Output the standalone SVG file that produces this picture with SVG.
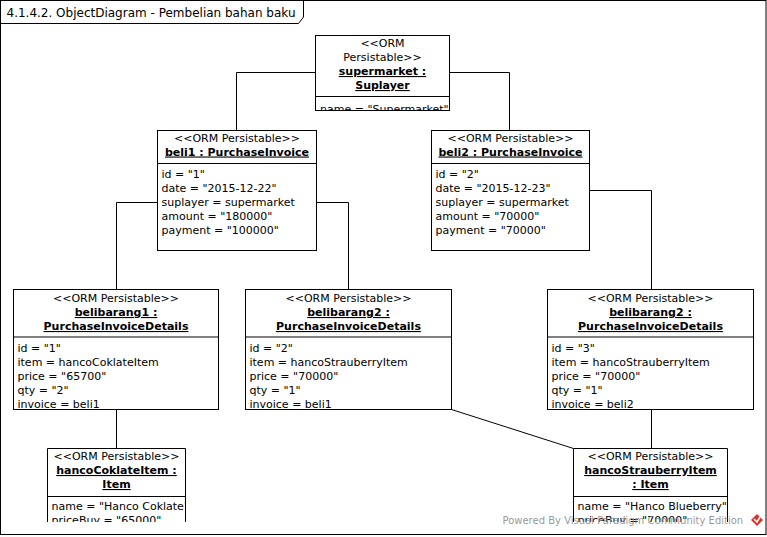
<svg xmlns="http://www.w3.org/2000/svg" width="767" height="537" viewBox="0 0 767 537">
<style>
  text { font-family: "DejaVu Sans", "Liberation Sans", sans-serif; font-size: 11px; fill: #000; }
  .c { text-anchor: middle; }
  .b { font-weight: bold; text-decoration: underline; }
  .box { fill: #fff; stroke: #000; stroke-width: 1; }
  .ln { fill: none; stroke: #000; stroke-width: 1; }
  .title { font-size: 12px; }
  .wm { font-size: 10px; fill: #8c8c8c; fill-opacity: 0.9; }
</style>
<defs>
  <clipPath id="clipSm"><rect x="316" y="36" width="133" height="74"/></clipPath>
  <clipPath id="clipHc"><rect x="48" y="449" width="137" height="73"/></clipPath>
  <clipPath id="clipHs"><rect x="574" y="449" width="153" height="73"/></clipPath>
</defs>
<rect x="0" y="0" width="767" height="537" fill="#fff"/>
<g id="frame">
  <rect x="0.5" y="0.5" width="765.5" height="534" class="ln"/>
  <polyline points="0.5,23.5 298.5,23.5 303.5,17 303.5,0.5" class="ln"/>
  <text x="6.5" y="16.5" class="title">4.1.4.2. ObjectDiagram - Pembelian bahan baku</text>
</g>
<g id="connectors">
  <polyline points="315,72.5 236.5,72.5 236.5,130" class="ln"/>
  <polyline points="449,72.5 509.5,72.5 509.5,130" class="ln"/>
  <polyline points="157,202.5 116.5,202.5 116.5,289" class="ln"/>
  <polyline points="316,202.5 348.5,202.5 348.5,289" class="ln"/>
  <polyline points="589,190.5 651.5,190.5 651.5,289" class="ln"/>
  <line x1="116.5" y1="409" x2="116.5" y2="448" class="ln"/>
  <line x1="651.5" y1="409" x2="651.5" y2="448" class="ln"/>
  <line x1="451.5" y1="409.5" x2="573.5" y2="448.5" class="ln"/>
</g>
<g id="supermarket">
  <rect x="315.5" y="35.5" width="134" height="75" class="box"/>
  <line x1="315.5" y1="96.5" x2="449.5" y2="96.5" class="ln"/>
  <text x="382.5" y="47" class="c">&lt;&lt;ORM</text>
  <text x="382.5" y="61" class="c">Persistable&gt;&gt;</text>
  <text x="382.5" y="75" class="c b">supermarket :</text>
  <text x="382.5" y="89" class="c b">Suplayer</text>
  <g clip-path="url(#clipSm)"><text x="320" y="112.5">name = "Supermarket"</text></g>
</g>
<g id="beli1">
  <rect x="157.5" y="130.5" width="159" height="120" class="box"/>
  <line x1="157.5" y1="163.5" x2="316.5" y2="163.5" class="ln"/>
  <text x="237" y="142" class="c">&lt;&lt;ORM Persistable&gt;&gt;</text>
  <text x="237" y="155.5" class="c b">beli1 : PurchaseInvoice</text>
  <text x="161.5" y="177.5">id = "1"</text>
  <text x="161.5" y="191.5">date = "2015-12-22"</text>
  <text x="161.5" y="205.5">suplayer = supermarket</text>
  <text x="161.5" y="219.5">amount = "180000"</text>
  <text x="161.5" y="233.5">payment = "100000"</text>
</g>
<g id="beli2">
  <rect x="431.5" y="130.5" width="158" height="120" class="box"/>
  <line x1="431.5" y1="163.5" x2="589.5" y2="163.5" class="ln"/>
  <text x="510.5" y="142" class="c">&lt;&lt;ORM Persistable&gt;&gt;</text>
  <text x="510.5" y="155.5" class="c b">beli2 : PurchaseInvoice</text>
  <text x="435.5" y="177.5">id = "2"</text>
  <text x="435.5" y="191.5">date = "2015-12-23"</text>
  <text x="435.5" y="205.5">suplayer = supermarket</text>
  <text x="435.5" y="219.5">amount = "70000"</text>
  <text x="435.5" y="233.5">payment = "70000"</text>
</g>
<g id="belibarang1">
  <rect x="13.5" y="289.5" width="205" height="120" class="box"/>
  <line x1="13.5" y1="337" x2="218.5" y2="337" class="ln"/>
  <text x="116" y="302" class="c">&lt;&lt;ORM Persistable&gt;&gt;</text>
  <text x="116" y="316" class="c b">belibarang1 :</text>
  <text x="116" y="330" class="c b">PurchaseInvoiceDetails</text>
  <text x="17.5" y="352">id = "1"</text>
  <text x="17.5" y="366">item = hancoCoklateItem</text>
  <text x="17.5" y="380">price = "65700"</text>
  <text x="17.5" y="394">qty = "2"</text>
  <text x="17.5" y="408">invoice = beli1</text>
</g>
<g id="belibarang2">
  <rect x="245.5" y="289.5" width="206" height="120" class="box"/>
  <line x1="245.5" y1="337" x2="451.5" y2="337" class="ln"/>
  <text x="348.5" y="302" class="c">&lt;&lt;ORM Persistable&gt;&gt;</text>
  <text x="348.5" y="316" class="c b">belibarang2 :</text>
  <text x="348.5" y="330" class="c b">PurchaseInvoiceDetails</text>
  <text x="249.5" y="352">id = "2"</text>
  <text x="249.5" y="366">item = hancoStrauberryItem</text>
  <text x="249.5" y="380">price = "70000"</text>
  <text x="249.5" y="394">qty = "1"</text>
  <text x="249.5" y="408">invoice = beli1</text>
</g>
<g id="belibarang3">
  <rect x="547.5" y="289.5" width="206" height="120" class="box"/>
  <line x1="547.5" y1="337" x2="753.5" y2="337" class="ln"/>
  <text x="650.5" y="302" class="c">&lt;&lt;ORM Persistable&gt;&gt;</text>
  <text x="650.5" y="316" class="c b">belibarang2 :</text>
  <text x="650.5" y="330" class="c b">PurchaseInvoiceDetails</text>
  <text x="551.5" y="352">id = "3"</text>
  <text x="551.5" y="366">item = hancoStrauberryItem</text>
  <text x="551.5" y="380">price = "70000"</text>
  <text x="551.5" y="394">qty = "1"</text>
  <text x="551.5" y="408">invoice = beli2</text>
</g>
<g id="hancoCoklateItem">
  <rect x="47.5" y="448.5" width="138" height="74" fill="#fff"/>
  <path d="M47.5,522 V448.5 H185.5 V522" class="ln"/>
  <line x1="47.5" y1="496.5" x2="185.5" y2="496.5" class="ln"/>
  <text x="116.5" y="460" class="c">&lt;&lt;ORM Persistable&gt;&gt;</text>
  <text x="116.5" y="474" class="c b">hancoCoklateItem :</text>
  <text x="116.5" y="488" class="c b">Item</text>
  <g clip-path="url(#clipHc)">
    <text x="51.5" y="510">name = "Hanco Coklate"</text>
    <text x="51.5" y="524">priceBuy = "65000"</text>
  </g>
</g>
<g id="hancoStrauberryItem">
  <rect x="573.5" y="448.5" width="154" height="74" fill="#fff"/>
  <path d="M573.5,522 V448.5 H727.5 V522" class="ln"/>
  <line x1="573.5" y1="496.5" x2="727.5" y2="496.5" class="ln"/>
  <text x="650.5" y="460" class="c">&lt;&lt;ORM Persistable&gt;&gt;</text>
  <text x="650.5" y="474" class="c b">hancoStrauberryItem</text>
  <text x="650.5" y="488" class="c b">: Item</text>
  <g clip-path="url(#clipHs)">
    <text x="577.5" y="510">name = "Hanco Blueberry"</text>
    <text x="577.5" y="524">priceBuy = "70000"</text>
  </g>
</g>
<g id="watermark">
  <text x="502.5" y="523.5" class="wm">Powered By Visual Paradigm Community Edition</text>
  <polygon points="757,514 763,520 757,526 751,520" fill="#d9342b"/>
  <polyline points="754,519 757,522 760,517" fill="none" stroke="#fff" stroke-width="1.5"/>
</g>
</svg>
